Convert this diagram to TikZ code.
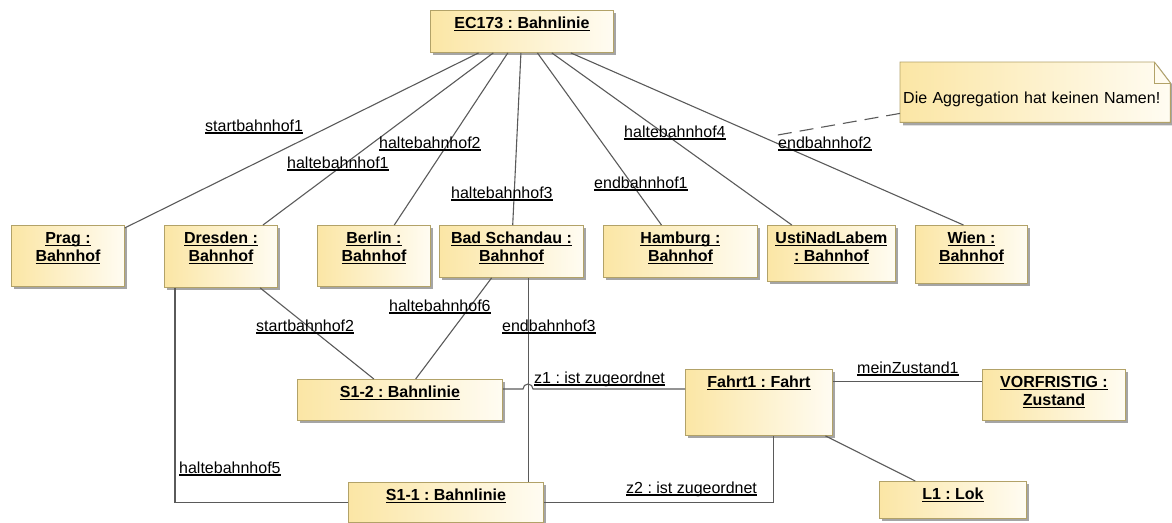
\documentclass[tikz,border=0pt]{standalone}
\usepackage{fontspec}
\setmainfont{Liberation Sans}
\usetikzlibrary{shadows,backgrounds}
\frenchspacing

\definecolor{objfill}{RGB}{251,230,165}
\definecolor{objwhite}{RGB}{255,252,242}
\definecolor{objline}{RGB}{178,162,104}
\definecolor{linegray}{RGB}{90,90,90}
\definecolor{shadowgray}{RGB}{165,165,165}

\newcommand{\undl}[1]{\setbox0=\hbox{#1}\rlap{\rule[-2.6pt]{\wd0}{1.2pt}}\box0}

\begin{document}
\begin{tikzpicture}[x=1pt, y=-1pt]
    \tikzstyle{object} = [rectangle, draw=objline, line width=0.9pt, left color=objfill, right color=objwhite, drop shadow={shadow xshift=3pt, shadow yshift=-3pt, fill=shadowgray, opacity=1}, anchor=north west, align=center, inner xsep=2pt, inner ysep=0pt, text height=18pt, font=\bfseries\fontsize{16}{18}\selectfont]
    \tikzstyle{twolines} = [text height=36pt]
    \tikzstyle{notebox} = [anchor=north west, inner xsep=3pt, inner ysep=0pt, text width=264pt, align=left, text height=41pt, text depth=19pt, font=\fontsize{16}{18}\selectfont]
    \tikzstyle{role} = [anchor=base west, inner sep=0pt, font=\fontsize{16}{18}\selectfont]
    \tikzstyle{link} = [draw=linegray, line width=1.1pt]

    \useasboundingbox (0,0) rectangle (1172,522);

    % objects
    \node [object, minimum width=183pt, text depth=24pt] (ec) at (430,10) {\undl{EC173 : Bahnlinie}};
    \node [object, twolines, minimum width=113pt, text depth=25pt] (praq) at (11,225) {\undl{Prag :}\\\undl{Bahnhof}};
    \node [object, twolines, minimum width=113pt, text depth=26pt] (dresden) at (164,225) {\undl{Dresden :}\\\undl{Bahnhof}};
    \node [object, twolines, minimum width=113pt, text depth=25pt] (berlin) at (317,225) {\undl{Berlin :}\\\undl{Bahnhof}};
    \node [object, twolines, minimum width=144pt, text depth=16pt] (badschandau) at (439,225) {\undl{Bad Schandau :}\\\undl{Bahnhof}};
    \node [object, twolines, minimum width=154pt, text depth=16pt] (hamburg) at (603,225) {\undl{Hamburg :}\\\undl{Bahnhof}};
    \node [object, twolines, minimum width=128pt, text depth=20pt] (usti) at (767,225) {\undl{UstiNadLabem}\\\undl{: Bahnhof}};
    \node [object, twolines, minimum width=112pt, text depth=22pt] (wien) at (915,225) {\undl{Wien :}\\\undl{Bahnhof}};
    \node [object, minimum width=205pt, text depth=23pt] (s12) at (297,379) {\undl{S1-2 : Bahnlinie}};
    \node [object, minimum width=195pt, text depth=22pt] (s11) at (348,482) {\undl{S1-1 : Bahnlinie}};
    \node [object, minimum width=147pt, text depth=48pt] (fahrt) at (685,369) {\undl{Fahrt1 : Fahrt}};
    \node [object, twolines, minimum width=143pt, text depth=15pt] (vorfristig) at (982,369) {\undl{VORFRISTIG :}\\\undl{Zustand}};
    \node [object, minimum width=147pt, text depth=19pt] (l1) at (879,481) {\undl{L1 : Lok}};

    % note
    \node [notebox] (note) at (900,62) {Die Aggregation hat keinen Namen!};
    \begin{scope}[on background layer]
        \draw [draw=objline, line width=0.9pt, left color=objfill, right color=objwhite, drop shadow={shadow xshift=3pt, shadow yshift=-3pt, fill=shadowgray, opacity=1}] (note.north west) -- ([xshift=-16pt]note.north east) -- ([yshift=-21pt]note.north east) -- (note.south east) -- (note.south west) -- cycle;
        \draw [objline, line width=0.9pt] ([xshift=-16pt]note.north east) |- ([yshift=-21pt]note.north east);
    \end{scope}

    % links
    \foreach \stn in {praq, dresden, berlin, badschandau, hamburg, usti}
        \draw [link] (ec) -- (\stn);
    \draw [link] (ec) -- ([xshift=-8pt]wien.north);
    \draw [link] (dresden) -- (s12);
    \draw [link] (badschandau) -- (s12);
    \draw [link] ([xshift=-46pt]dresden.south) |- (s11);
    \draw [link] ([xshift=17pt]badschandau.south) -- ([xshift=17pt]badschandau.south |- s11.north);
    \coordinate (hop) at (528,389);
    \draw [link] (s12.east |- hop) -- ([xshift=-5pt]hop) arc [start angle=180, end angle=0, radius=5pt] -- (fahrt.west |- hop);
    \draw [link] (s11.east) -| ([xshift=14.5pt]fahrt.south);
    \draw [link] ([yshift=21pt]fahrt.east) -- ([yshift=21pt]fahrt.east -| vorfristig.west);
    \draw [link] (fahrt) -- (l1);
    \coordinate (aggr) at (772,136);
    \draw [link, dash pattern=on 14pt off 8pt] ([yshift=9pt]note.south west) -- (aggr);

    % role names
    \node [role] (sb1) at (205,131) {\undl{startbahnhof1}};
    \node [role] (hb1) at (287,168) {\undl{haltebahnhof1}};
    \node [role] (hb2) at (379,148) {\undl{haltebahnhof2}};
    \node [role] (hb3) at (451,198) {\undl{haltebahnhof3}};
    \node [role] (eb1) at (594,188) {\undl{endbahnhof1}};
    \node [role] (hb4) at (624,137) {\undl{haltebahnhof4}};
    \node [role] (eb2) at (778,148) {\undl{endbahnhof2}};
    \node [role] (sb2) at (256,331) {\undl{startbahnhof2}};
    \node [role] (hb6) at (389,311) {\undl{haltebahnhof6}};
    \node [role] (eb3) at (502,331) {\undl{endbahnhof3}};
    \node [role] (hb5) at (179,473) {\undl{haltebahnhof5}};
    \node [role] (z1) at (534,383) {\undl{z1 : ist zugeordnet}};
    \node [role] (z2) at (626,493) {\undl{z2 : ist zugeordnet}};
    \node [role] (mz1) at (857,373) {\undl{meinZustand1}};
\end{tikzpicture}
\end{document}
